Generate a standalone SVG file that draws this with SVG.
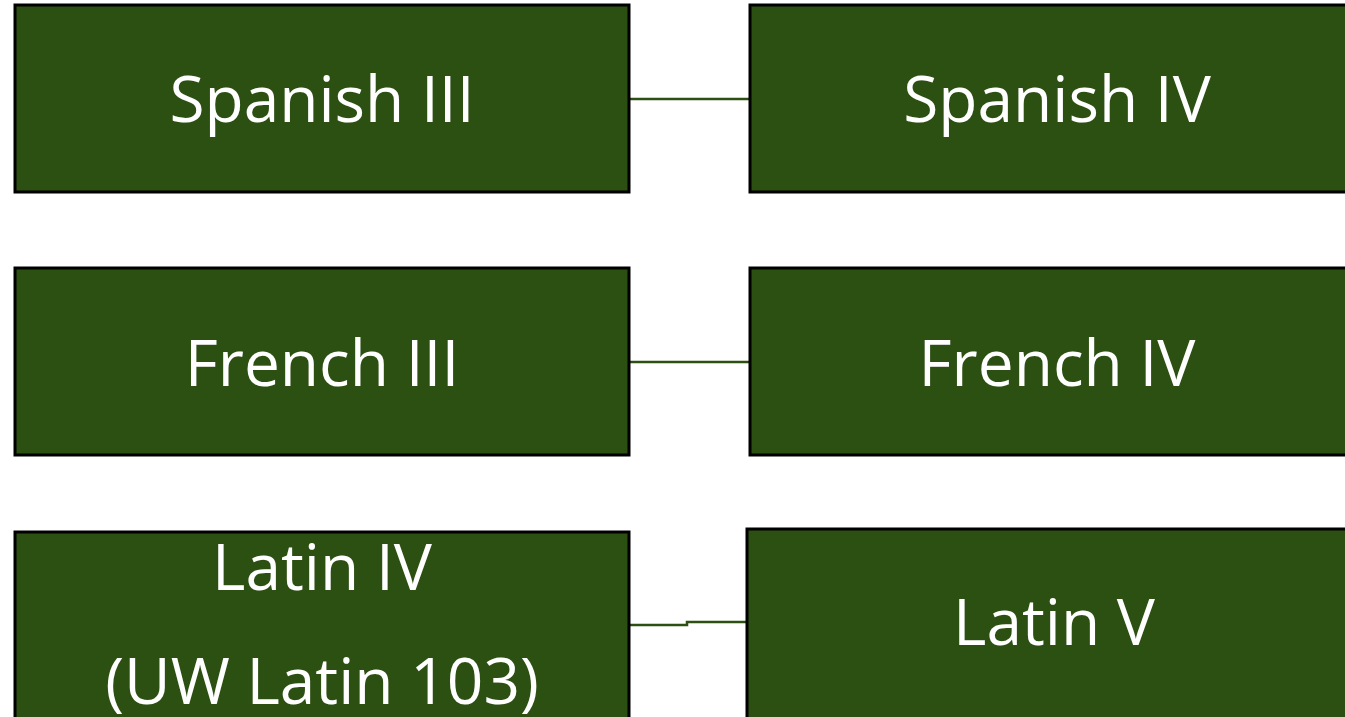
<svg xmlns="http://www.w3.org/2000/svg" width="1345" height="717" viewBox="0 0 1345 717">
<style>
.box{fill:#2c4f12;stroke:#000;stroke-width:3}
.lbl{fill:#fff;font-family:"Open Sans","Liberation Sans",sans-serif;font-size:64px;text-anchor:middle}
.conn{fill:none;stroke:#2c4f12;stroke-width:2.5}
</style>
<rect width="1345" height="717" fill="#fff"/>
<g id="connectors">
<path class="conn" d="M629,99 H750"/>
<path class="conn" d="M629,362 H750"/>
<path class="conn" d="M629,625 H687 V622 H747"/>
</g>
<g id="spanish3"><rect class="box" x="15" y="5" width="614" height="187"/><text class="lbl" x="322" y="122">Spanish III</text></g>
<g id="spanish4"><rect class="box" x="750" y="5" width="614" height="187"/><text class="lbl" x="1057" y="122">Spanish IV</text></g>
<g id="french3"><rect class="box" x="15" y="268" width="614" height="187"/><text class="lbl" x="322" y="386">French III</text></g>
<g id="french4"><rect class="box" x="750" y="268" width="614" height="187"/><text class="lbl" x="1057" y="386">French IV</text></g>
<g id="latin4"><rect class="box" x="15" y="532" width="614" height="200"/><text class="lbl" x="322" y="590">Latin IV</text><text class="lbl" x="322" y="704">(UW Latin 103)</text></g>
<g id="latin5"><rect class="box" x="747" y="529" width="614" height="200"/><text class="lbl" x="1054" y="645">Latin V</text></g>
</svg>
